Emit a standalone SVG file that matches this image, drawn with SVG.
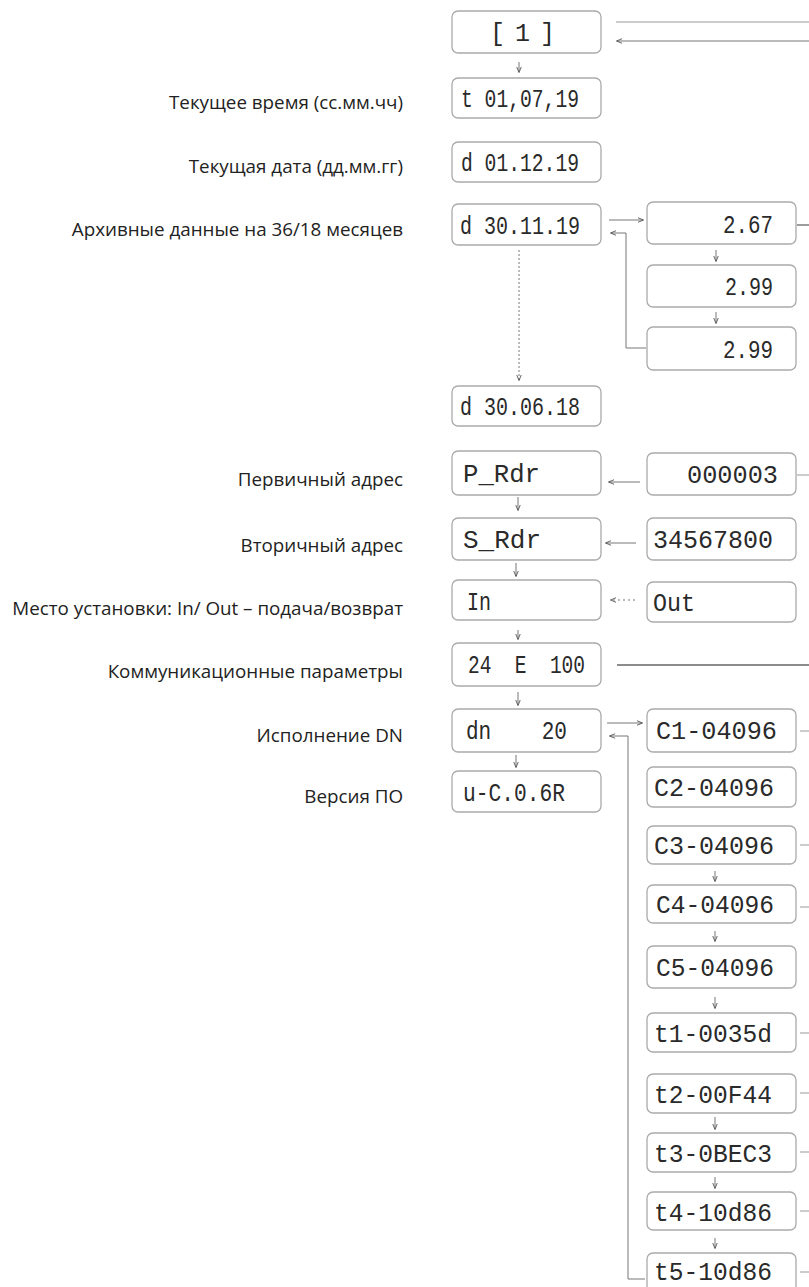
<svg xmlns="http://www.w3.org/2000/svg" width="809" height="1287" viewBox="0 0 809 1287">
<defs>
<marker id="ah" viewBox="0 0 10 10" refX="9" refY="5" markerWidth="6" markerHeight="6" orient="auto"><path d="M0,1 L10,5 L0,9" fill="none" stroke="#555" stroke-width="1.5"/></marker>
<style>
.lbl{font-family:"Open Sans","Noto Sans",sans-serif;font-size:18.8px;fill:#222;text-anchor:end}
.box{fill:#fff;stroke:#aaa;stroke-width:1.3}
.lcd{font-family:"Liberation Mono","DejaVu Sans Mono",monospace;font-size:25px;fill:#2a2a2a;white-space:pre}
.ln{fill:none;stroke:#666;stroke-width:1.3}
.lt{fill:none;stroke:#999;stroke-width:1}
.ar{fill:none;stroke:#777;stroke-width:1;marker-end:url(#ah)}
</style>
</defs>
<g id="labels">
<text class="lbl" x="403" y="109">Текущее время (сс.мм.чч)</text>
<text class="lbl" x="403" y="173">Текущая дата (дд.мм.гг)</text>
<text class="lbl" x="403" y="236">Архивные данные на 36/18 месяцев</text>
<text class="lbl" x="403" y="486">Первичный адрес</text>
<text class="lbl" x="403" y="552">Вторичный адрес</text>
<text class="lbl" x="403" y="615">Место установки: In/ Out – подача/возврат</text>
<text class="lbl" x="403" y="678">Коммуникационные параметры</text>
<text class="lbl" x="403" y="742">Исполнение DN</text>
<text class="lbl" x="403" y="803">Версия ПО</text>
</g>
<g id="n1"><rect class="box" x="452" y="11" width="149" height="42" rx="6"/><text class="lcd" x="490" y="41" textLength="65" lengthAdjust="spacing" xml:space="preserve">[ 1 ]</text></g>
<g id="n2"><rect class="box" x="452" y="78" width="149" height="40" rx="6"/><text class="lcd" x="461" y="107" textLength="118" lengthAdjust="spacingAndGlyphs">t 01,07,19</text></g>
<g id="n3"><rect class="box" x="452" y="142" width="149" height="40" rx="6"/><text class="lcd" x="461" y="171" textLength="118" lengthAdjust="spacingAndGlyphs">d 01.12.19</text></g>
<g id="n4"><rect class="box" x="452" y="204" width="149" height="41" rx="6"/><text class="lcd" x="460" y="234" textLength="120" lengthAdjust="spacingAndGlyphs">d 30.11.19</text></g>
<g id="n5"><rect class="box" x="452" y="386" width="149" height="40" rx="6"/><text class="lcd" x="460" y="415" textLength="120" lengthAdjust="spacingAndGlyphs">d 30.06.18</text></g>
<g id="n6"><rect class="box" x="452" y="451" width="149" height="44" rx="6"/><text class="lcd" x="463" y="482" textLength="77" lengthAdjust="spacingAndGlyphs">P_Rdr</text></g>
<g id="n7"><rect class="box" x="452" y="518" width="149" height="42" rx="6"/><text class="lcd" x="463" y="548" textLength="78" lengthAdjust="spacingAndGlyphs">S_Rdr</text></g>
<g id="n8"><rect class="box" x="452" y="580" width="149" height="40" rx="6"/><text class="lcd" x="467" y="610" textLength="24" lengthAdjust="spacingAndGlyphs">In</text></g>
<g id="n9"><rect class="box" x="452" y="643" width="149" height="43" rx="6"/><text class="lcd" x="468" y="673" textLength="117" lengthAdjust="spacingAndGlyphs" xml:space="preserve">24  E  100</text></g>
<g id="n10"><rect class="box" x="452" y="709" width="149" height="43" rx="6"/><text class="lcd" x="466" y="739" textLength="101" lengthAdjust="spacingAndGlyphs" xml:space="preserve">dn    20</text></g>
<g id="n11"><rect class="box" x="452" y="771" width="149" height="41" rx="6"/><text class="lcd" x="463" y="801" textLength="102" lengthAdjust="spacingAndGlyphs">u-C.0.6R</text></g>
<g id="r1"><rect class="box" x="647" y="202" width="149" height="42" rx="6"/><text class="lcd" x="723" y="233" textLength="50" lengthAdjust="spacingAndGlyphs">2.67</text></g>
<g id="r2"><rect class="box" x="647" y="265" width="149" height="42" rx="6"/><text class="lcd" x="725" y="295" textLength="48" lengthAdjust="spacingAndGlyphs">2.99</text></g>
<g id="r3"><rect class="box" x="647" y="327" width="149" height="43" rx="6"/><text class="lcd" x="723" y="358" textLength="50" lengthAdjust="spacingAndGlyphs">2.99</text></g>
<g id="r4"><rect class="box" x="647" y="453" width="149" height="42" rx="6"/><text class="lcd" x="687" y="483" textLength="91" lengthAdjust="spacingAndGlyphs">000003</text></g>
<g id="r5"><rect class="box" x="647" y="518" width="149" height="42" rx="6"/><text class="lcd" x="653" y="548" textLength="120" lengthAdjust="spacingAndGlyphs">34567800</text></g>
<g id="r6"><rect class="box" x="647" y="582" width="149" height="40" rx="6"/><text class="lcd" x="653" y="611" textLength="42" lengthAdjust="spacingAndGlyphs">Out</text></g>
<g id="c1"><rect class="box" x="647" y="709" width="149" height="43" rx="6"/><text class="lcd" x="656" y="739" textLength="121" lengthAdjust="spacingAndGlyphs">C1-04096</text></g>
<g id="c2"><rect class="box" x="647" y="767" width="149" height="40" rx="6"/><text class="lcd" x="654" y="796" textLength="120" lengthAdjust="spacingAndGlyphs">C2-04096</text></g>
<g id="c3"><rect class="box" x="647" y="826" width="149" height="38" rx="6"/><text class="lcd" x="654" y="854" textLength="120" lengthAdjust="spacingAndGlyphs">C3-04096</text></g>
<g id="c4"><rect class="box" x="647" y="885" width="149" height="38" rx="6"/><text class="lcd" x="656" y="913" textLength="118" lengthAdjust="spacingAndGlyphs">C4-04096</text></g>
<g id="c5"><rect class="box" x="647" y="946" width="149" height="42" rx="6"/><text class="lcd" x="656" y="976" textLength="118" lengthAdjust="spacingAndGlyphs">C5-04096</text></g>
<g id="t1"><rect class="box" x="647" y="1013" width="149" height="39" rx="6"/><text class="lcd" x="654" y="1042" textLength="118" lengthAdjust="spacingAndGlyphs">t1-0035d</text></g>
<g id="t2"><rect class="box" x="647" y="1074" width="149" height="39" rx="6"/><text class="lcd" x="654" y="1103" textLength="118" lengthAdjust="spacingAndGlyphs">t2-00F44</text></g>
<g id="t3"><rect class="box" x="647" y="1133" width="149" height="39" rx="6"/><text class="lcd" x="654" y="1162" textLength="118" lengthAdjust="spacingAndGlyphs">t3-0BEC3</text></g>
<g id="t4"><rect class="box" x="647" y="1192" width="149" height="38" rx="6"/><text class="lcd" x="654" y="1221" textLength="118" lengthAdjust="spacingAndGlyphs">t4-10d86</text></g>
<g id="t5"><rect class="box" x="647" y="1253" width="149" height="40" rx="6"/><text class="lcd" x="654" y="1280" textLength="118" lengthAdjust="spacingAndGlyphs">t5-10d86</text></g>
<g id="connectors">
<line class="lt" x1="616" y1="22" x2="809" y2="22"/>
<line class="ar" x1="809" y1="41" x2="617" y2="41"/>
<line class="ar" x1="519" y1="62" x2="519" y2="72"/>
<line class="ar" x1="519" y1="250" x2="519" y2="380" stroke-dasharray="2,2"/>
<line class="ar" x1="609" y1="220" x2="643" y2="220"/>
<polyline class="ar" points="646,348 626,348 626,233 611,233"/>
<line class="ln" x1="797" y1="225" x2="809" y2="225"/>
<line class="ar" x1="716" y1="250" x2="716" y2="261"/>
<line class="ar" x1="716" y1="312" x2="716" y2="323"/>
<line class="ar" x1="640" y1="482" x2="609" y2="482"/>
<line class="lt" x1="797" y1="475" x2="809" y2="475"/>
<line class="ar" x1="636" y1="543" x2="606" y2="543"/>
<line class="ar" x1="518" y1="497" x2="518" y2="510"/>
<line class="ar" x1="516" y1="563" x2="516" y2="576"/>
<line class="ar" x1="635" y1="600" x2="611" y2="600" stroke-dasharray="2,3"/>
<line class="ar" x1="518" y1="630" x2="518" y2="639"/>
<line class="ln" x1="617" y1="665" x2="809" y2="665"/>
<line class="ar" x1="518" y1="692" x2="518" y2="705"/>
<line class="ar" x1="516" y1="755" x2="516" y2="767"/>
<line class="ar" x1="607" y1="723" x2="642" y2="723"/>
<polyline class="ar" points="645,1279 628,1279 628,736 610,736"/>
<line class="ar" x1="715" y1="871" x2="715" y2="881"/>
<line class="ar" x1="715" y1="931" x2="715" y2="941"/>
<line class="ar" x1="715" y1="997" x2="715" y2="1008"/>
<line class="ar" x1="715" y1="1117" x2="715" y2="1129"/>
<line class="ar" x1="715" y1="1177" x2="715" y2="1188"/>
<line class="ar" x1="715" y1="1238" x2="715" y2="1248"/>
<line class="lt" x1="800" y1="731" x2="809" y2="731"/>
<line class="lt" x1="800" y1="845" x2="809" y2="845"/>
<line class="lt" x1="800" y1="907" x2="809" y2="907"/>
<line class="lt" x1="800" y1="1033" x2="809" y2="1033"/>
<line class="lt" x1="800" y1="1093" x2="809" y2="1093"/>
<line class="lt" x1="800" y1="1152" x2="809" y2="1152"/>
<line class="lt" x1="800" y1="1211" x2="809" y2="1211"/>
<line class="lt" x1="800" y1="1272" x2="809" y2="1272"/>
</g>
</svg>
